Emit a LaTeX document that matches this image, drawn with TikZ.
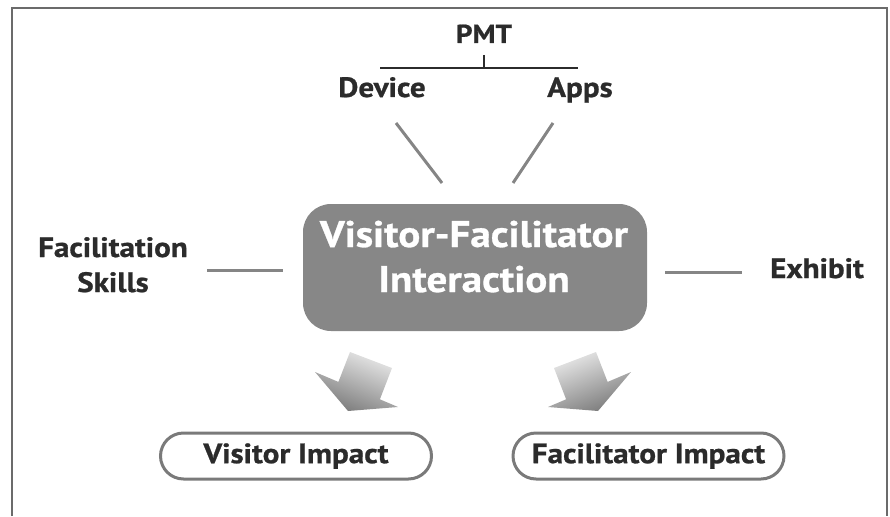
\documentclass[tikz,border=0pt]{standalone}
\usepackage{fontspec}
\setmainfont[FakeStretch=1.11, BoldFeatures={FakeBold=0.8}]{PT Sans}
\definecolor{txt}{HTML}{2B2B2B}
\definecolor{frm}{HTML}{6B6B6B}
\definecolor{ln}{HTML}{858585}
\definecolor{boxfill}{HTML}{878787}
\definecolor{pillc}{HTML}{7A7A7A}
\begin{document}
\begin{tikzpicture}[x=1pt,y=-1pt,
  lbl/.style={font=\bfseries\fontsize{28}{30}\selectfont, text=txt, inner sep=0pt, anchor=base},
  conn/.style={draw=ln, line width=3pt},
  pill/.style={draw=pillc, line width=3pt, rounded corners=23pt, minimum width=271pt, minimum height=46pt, inner sep=0pt,
    font=\bfseries\fontsize{28}{30}\selectfont, text=txt},
  bigarrow/.style={draw=none, top color=black!8, bottom color=black!52}
]
\useasboundingbox (0,0) rectangle (890,516);
% frame
\draw[frm, line width=2.5pt] (12,516) -- (12,8) -- (887,8) -- (887,516);

% PMT tree
\node[lbl, font=\bfseries\fontsize{26}{28}\selectfont] (pmt) at (484,43) {PMT};
\coordinate (pmtA) at (484,55);
\coordinate (pmtB) at (484,68);
\coordinate (barL) at (380,68);
\coordinate (barR) at (578,68);
\draw[txt, line width=2.5pt] (barL) -- (barR);
\draw[txt, line width=2pt] (pmtA) -- (pmtB);
\node[lbl] (device) at (382,97) {Device};
\node[lbl] (apps) at (580,97) {Apps};

% central box
\node[fill=boxfill, rounded corners=28pt, minimum width=344pt, minimum height=127pt] (vfi) at (475,267.5) {};
\node[lbl, text=white, font=\bfseries\fontsize{37}{40}\selectfont] (vf1) at (474,247) {Visitor-Facilitator};
\node[lbl, text=white, font=\bfseries\fontsize{37}{40}\selectfont] (vf2) at (474,292) {Interaction};

% side labels
\node[lbl] (fac1) at (113,257) {Facilitation};
\node[lbl] (fac2) at (113,292) {Skills};
\node[lbl] (exh) at (817,278) {Exhibit};

% connector lines
\coordinate (d1) at (396,123); \coordinate (d2) at (442,183);
\coordinate (a1) at (553,123); \coordinate (a2) at (513,183);
\coordinate (l1) at (207,270); \coordinate (l2) at (283,270);
\coordinate (r1) at (665,272); \coordinate (r2) at (742,272);
\draw[conn] (d1) -- (d2);
\draw[conn] (a1) -- (a2);
\draw[conn] (l1) -- (l2);
\draw[conn] (r1) -- (r2);

% block arrows
\shade[bigarrow, shading angle=-22] (350,352) -- (392,368) -- (379.9,399.3) -- (398,407) -- (348,411) -- (315,372) -- (338.4,381.9) -- cycle;
\shade[bigarrow, shading angle=22] (596,352) -- (554,368) -- (566.1,399.3) -- (548,407) -- (598,411) -- (631,372) -- (607.6,381.9) -- cycle;

% impact pills
\node[pill] (vimp) at (296,456) {Visitor Impact};
\node[pill] (fimp) at (648.5,456) {Facilitator Impact};
\end{tikzpicture}
\end{document}
